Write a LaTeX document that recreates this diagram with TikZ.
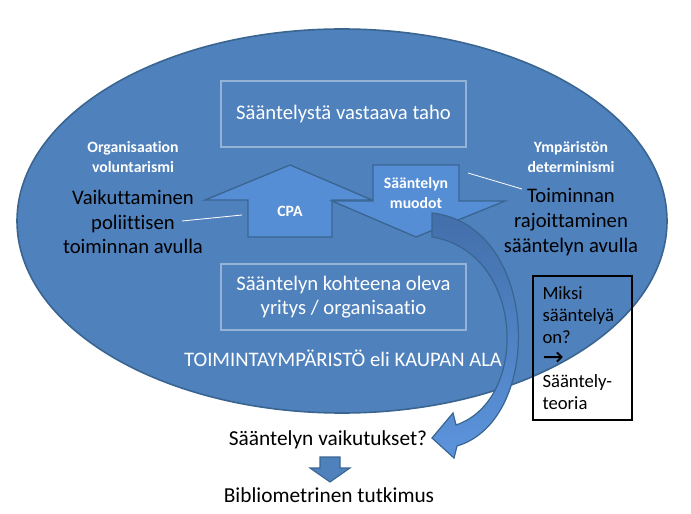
\documentclass[tikz,border=0pt]{standalone}
\usepackage{fontspec}
\setmainfont{Carlito}[Ligatures=NoCommon]
\newfontfamily\symfnt{DejaVu Sans}
\definecolor{elfill}{HTML}{4F81BD}
\definecolor{elline}{HTML}{3A6591}
\definecolor{arfill}{HTML}{558ED5}
\definecolor{kaaritop}{HTML}{436FAA}
\definecolor{kaaribot}{HTML}{5C94DC}
\definecolor{boxline}{HTML}{95B3D7}

\begin{document}
\begin{tikzpicture}[x=0.75pt,y=-0.75pt,
      kehys/.style={draw=boxline, line width=1.2pt, minimum width=183.75pt,
        minimum height=49.5pt, text=white, align=center,
        font=\fontsize{15.5}{18}\selectfont},
      otsikko/.style={text=white, align=center,
        font=\fontsize{11.8}{15}\selectfont\bfseries},
      selite/.style={align=center, font=\fontsize{15.5}{18.5}\selectfont},
      nuoli/.style={fill=arfill, draw=elline, line width=1pt},
      viiva/.style={white, line width=0.6pt}]
      \useasboundingbox (0,0) rectangle (691,513);
      % toimintaymparisto
      \draw[fill=elfill, draw=elline, line width=1.2pt] (342,221) ellipse [x radius=243.75pt, y radius=144pt];
      \node[kehys] (taho) at (343.5,114) {Sääntelystä vastaava taho};
      \node[kehys] (kohde) at (343.5,297) {Sääntelyn kohteena oleva\\yritys / organisaatio};
      \node[text=white, font=\fontsize{15.5}{17}\selectfont] (ala) at (343,358) {TOIMINTAYMPÄRISTÖ eli KAUPAN ALA};
      \node[otsikko] (orgvol) at (133,157) {Organisaation\\voluntarismi};
      \node[selite] (vaik) at (133,222) {Vaikuttaminen\\poliittisen\\toiminnan avulla};
      \node[otsikko] (ympdet) at (571,157) {Ympäristön\\determinismi};
      \node[selite] (toim) at (571,222) {Toiminnan\\rajoittaminen\\sääntelyn avulla};
      % nuolet
      \draw[nuoli] (290,165) -- (372,200) -- (332,200) -- (332,237) -- (248,237) -- (248,200) -- (205,200) -- cycle;
      \node[otsikko] (cpa) at (290,211) {CPA};
      \draw[nuoli] (373,165) -- (459,165) -- (459,201) -- (505,201) -- (416,237) -- (332,201) -- (373,201) -- cycle;
      \node[otsikko] (muodot) at (416,193) {Sääntelyn\\muodot};
      \coordinate (vl1) at (182,221);
      \coordinate (vl2) at (242,215);
      \coordinate (ol1) at (468,173);
      \coordinate (ol2) at (522,189);
      \draw[viiva] (vl1) -- (vl2);
      \draw[viiva] (ol1) -- (ol2);
      % kaareva nuoli
      \draw[top color=kaaritop, bottom color=kaaribot, draw=elline, line width=0.9pt]
        (432,213) .. controls (540,225) and (545,420) .. (457,446) -- (454,458) -- (432,438)
        -- (453,413) -- (456,425) .. controls (530,400) and (525,252) .. (432,237) -- cycle;
      \node[draw=black, line width=0.8pt, minimum width=74.25pt, minimum height=108pt,
        text width=60pt, align=left, inner sep=0pt, font=\fontsize{14}{16.5}\selectfont] (miksi) at (582.5,348)
        {Miksi\\sääntelyä\\on?\\{\symfnt\fontsize{19}{16.5}\selectfont →}\\Sääntely-\\teoria};
      \node[font=\fontsize{16}{18}\selectfont] (vaikutukset) at (328,440) {Sääntelyn vaikutukset?};
      \draw[fill=elfill, draw=elline, line width=0.8pt] (320,457) -- (340,457) -- (340,468) -- (350,468) -- (330,482) -- (310,468) -- (320,468) -- cycle;
      \node[font=\fontsize{16}{18}\selectfont] (biblio) at (329,495) {Bibliometrinen tutkimus};
\end{tikzpicture}
\end{document}
